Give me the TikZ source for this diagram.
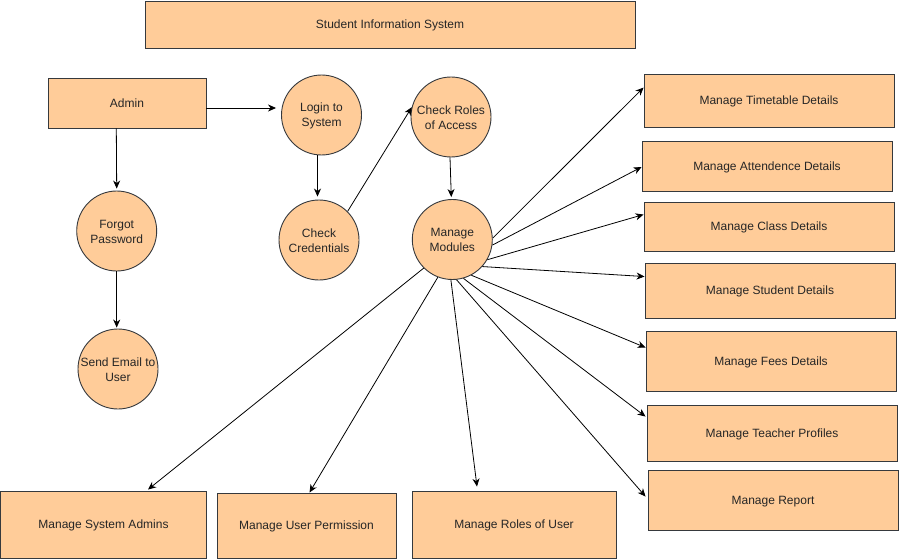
\documentclass[tikz,border=0pt]{standalone}
\usepackage{fontspec}
\setmainfont{Liberation Sans}
\usetikzlibrary{arrows.meta}
\definecolor{boxfill}{HTML}{FFCC99}
\definecolor{boxline}{HTML}{36393D}
\tikzset{
  base/.style={draw=boxline, fill=boxfill, line width=0.9pt, font=\fontsize{12}{15}\selectfont, text=black!85},
  rbox/.style={base, rectangle, inner sep=0pt, text height=8.6pt, text depth=0pt},
  cnode/.style={base, circle, minimum size=80pt, inner sep=-8pt, align=center, text height=24pt, text depth=0pt},
  link/.style={line width=0.8pt, -{Stealth[length=8pt,width=7pt,inset=2.5pt]}},
}
\begin{document}
\begin{tikzpicture}[x=1pt,y=-1pt]
\useasboundingbox (0,0) rectangle (899,559);
% boxes
\node[rbox, minimum width=490pt, minimum height=47pt] (title) at (390,24.5) {Student Information System};
\node[rbox, minimum width=158pt, minimum height=50pt] (admin) at (127,103) {Admin};
\node[rbox, minimum width=250pt, minimum height=53pt] (tt) at (769,100.5) {Manage Timetable Details};
\node[rbox, minimum width=250pt, minimum height=50pt] (att) at (767,166) {Manage Attendence Details};
\node[rbox, minimum width=250pt, minimum height=49pt] (cls) at (769,226.5) {Manage Class Details};
\node[rbox, minimum width=250pt, minimum height=55pt] (stu) at (770,290.5) {Manage Student Details};
\node[rbox, minimum width=250pt, minimum height=60pt] (fees) at (771,361) {Manage Fees Details};
\node[rbox, minimum width=250pt, minimum height=56pt] (tea) at (772,433) {Manage Teacher Profiles};
\node[rbox, minimum width=250pt, minimum height=60pt] (rep) at (773,500) {Manage Report};
\node[rbox, minimum width=206pt, minimum height=67pt] (sa) at (103.5,524.5) {Manage System Admins};
\node[rbox, minimum width=179pt, minimum height=65pt] (up) at (306.5,525.5) {Manage User Permission};
\node[rbox, minimum width=204pt, minimum height=67pt] (ru) at (514,524.5) {Manage Roles of User};
% circles
\node[cnode] (login) at (321.5,115) {Login to\\System};
\node[cnode] (cred) at (319,240) {Check\\Credentials};
\node[cnode] (roles) at (451,117) {Check Roles\\of Access};
\node[cnode] (mm) at (452.3,239.5) {Manage\\Modules};
\node[cnode] (forgot) at (116.7,231) {Forgot\\Password};
\node[cnode] (email) at (118,369) {Send Email to\\User};
% connectors
\draw[link] ([yshift=-5pt]admin.east) -- ([xshift=-5pt,yshift=7pt]login.west);
\draw[link] ([xshift=-10.7pt]admin.south) -- ([yshift=2pt]forgot.north);
\draw[link] (forgot.south) -- ([yshift=1pt]forgot.south |- email.north);
\draw[link] ([xshift=-4pt]login.south) -- ([xshift=-1.5pt,yshift=3pt]cred.north);
\draw[link] (cred.45) -- (roles.166);
\draw[link] ([xshift=-1pt]roles.south) -- ([xshift=-1pt,yshift=2pt]mm.north);
\draw[link] (mm.2) -- ([yshift=-14pt]tt.north west);
\draw[link] (mm.-8) -- ([yshift=-1pt]att.west);
\draw[link] (mm.-30) -- ([yshift=-13pt]cls.north west);
\draw[link] (mm.-42) -- ([yshift=-14pt]stu.north west);
\draw[link] (mm.-62) -- ([yshift=-17pt]fees.north west);
\draw[link] (mm.-74) -- ([xshift=-1pt,yshift=-12pt]tea.north west);
\draw[link] (mm.-84) -- ([xshift=-2pt,yshift=-27pt]rep.north west);
\draw[link] (mm.-92) -- ([xshift=-37pt,yshift=4pt]ru.north);
\draw[link] (mm.-111) -- ([xshift=3pt]up.north);
\draw[link] (mm.-135) -- ([xshift=44.5pt,yshift=1pt]sa.north);
\end{tikzpicture}
\end{document}
